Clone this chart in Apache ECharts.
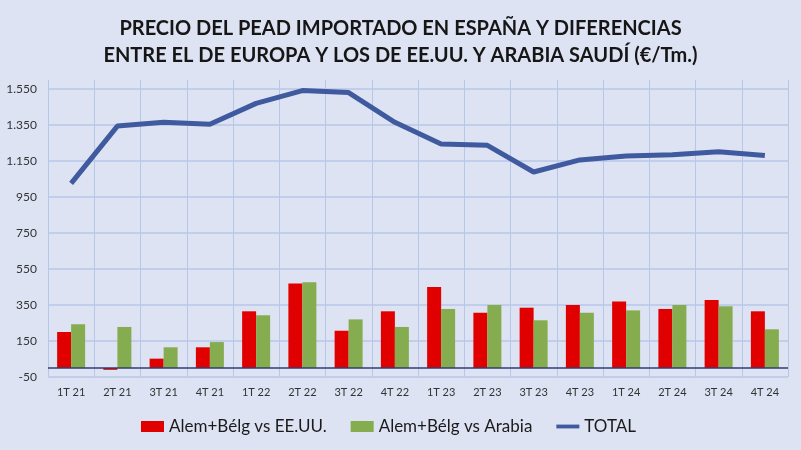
<!DOCTYPE html>
<html><head><meta charset="utf-8">
<script src="https://cdn.jsdelivr.net/npm/echarts@6/dist/echarts.min.js"></script>
<style>html,body{margin:0;padding:0;background:#DDE3F3;}#c{width:801px;height:450px;}</style>
</head><body><div id="c"></div>
<script>
const categories = ['1T 21','2T 21','3T 21','4T 21','1T 22','2T 22','3T 22','4T 22','1T 23','2T 23','3T 23','4T 23','1T 24','2T 24','3T 24','4T 24'];
const vsUSA = [200,-10,52,115,315,470,207,315,450,307,335,350,370,328,378,315];
const vsArabia = [243,228,115,144,293,476,270,228,328,350,265,307,320,350,343,215];
const total = [1026,1344,1365,1354,1470,1541,1530,1365,1244,1237,1089,1156,1178,1185,1202,1180];
const yTicks = [-50,150,350,550,750,950,1150,1350,1550];
const titleLines = ['PRECIO DEL PEAD IMPORTADO EN ESPAÑA Y DIFERENCIAS','ENTRE EL DE EUROPA Y LOS DE EE.UU. Y ARABIA SAUDÍ (€/Tm.)'];
const seriesNames = ['Alem+Bélg vs EE.UU.','Alem+Bélg vs Arabia','TOTAL'];

const fmt = v => {
  const s = Math.abs(v).toString().replace(/\B(?=(\d{3})+(?!\d))/g, '.');
  return (v < 0 ? '-' : '') + s;
};
const chart = echarts.init(document.getElementById('c'));
chart.setOption({
  backgroundColor: '#DDE3F3',
  animation: false,
  title: {
    text: titleLines.join('\n'),
    left: 'center', top: 10,
    textStyle: {fontFamily: 'Lato', fontWeight: 'bold', fontSize: 20, lineHeight: 27, color: '#161616'}
  },
  legend: {
    bottom: 10, left: 136, itemGap: 24, itemWidth: 23, itemHeight: 11,
    textStyle: {fontFamily: 'Lato', fontSize: 17, color: '#1a1a1a'},
    data: [
      {name: seriesNames[0], icon: 'rect'},
      {name: seriesNames[1], icon: 'rect'},
      {name: seriesNames[2], icon: 'path://M0,0 H27 V4.5 H0 Z'}
    ]
  },
  grid: {left: 48, right: 13, top: 80, bottom: 73},
  xAxis: {
    type: 'category', data: categories,
    axisLine: {show: false, onZero: false},
    axisTick: {show: false},
    splitLine: {show: true, lineStyle: {color: '#B7C7E8', width: 1}},
    axisLabel: {fontFamily: 'Lato', fontSize: 11, color: '#333', margin: 10}
  },
  yAxis: {
    type: 'value', min: -50, max: 1600,
    axisLine: {show: false}, axisTick: {show: false, customValues: yTicks},
    splitLine: {show: true, lineStyle: {color: '#B7C7E8', width: 1.5}},
    axisLabel: {customValues: yTicks, formatter: fmt, fontFamily: 'Lato', fontSize: 12, color: '#333', margin: 11}
  },
  series: [
    {name: seriesNames[0], type: 'bar', data: vsUSA, barWidth: 14, barGap: '0%',
      itemStyle: {color: '#E00000'},
      markLine: {silent: true, symbol: ['none','none'], label: {show: false},
        lineStyle: {color: '#2F3C70', width: 1.5, type: 'solid'}, data: [{yAxis: 0}]}},
    {name: seriesNames[1], type: 'bar', data: vsArabia, barWidth: 14, barGap: '0%',
      itemStyle: {color: '#85AD50'}},
    {name: seriesNames[2], type: 'line', data: total, symbol: 'none', z: 5,
      lineStyle: {color: '#3F5A9E', width: 5}, itemStyle: {color: '#3F5A9E'}}
  ]
});
</script></body></html>
